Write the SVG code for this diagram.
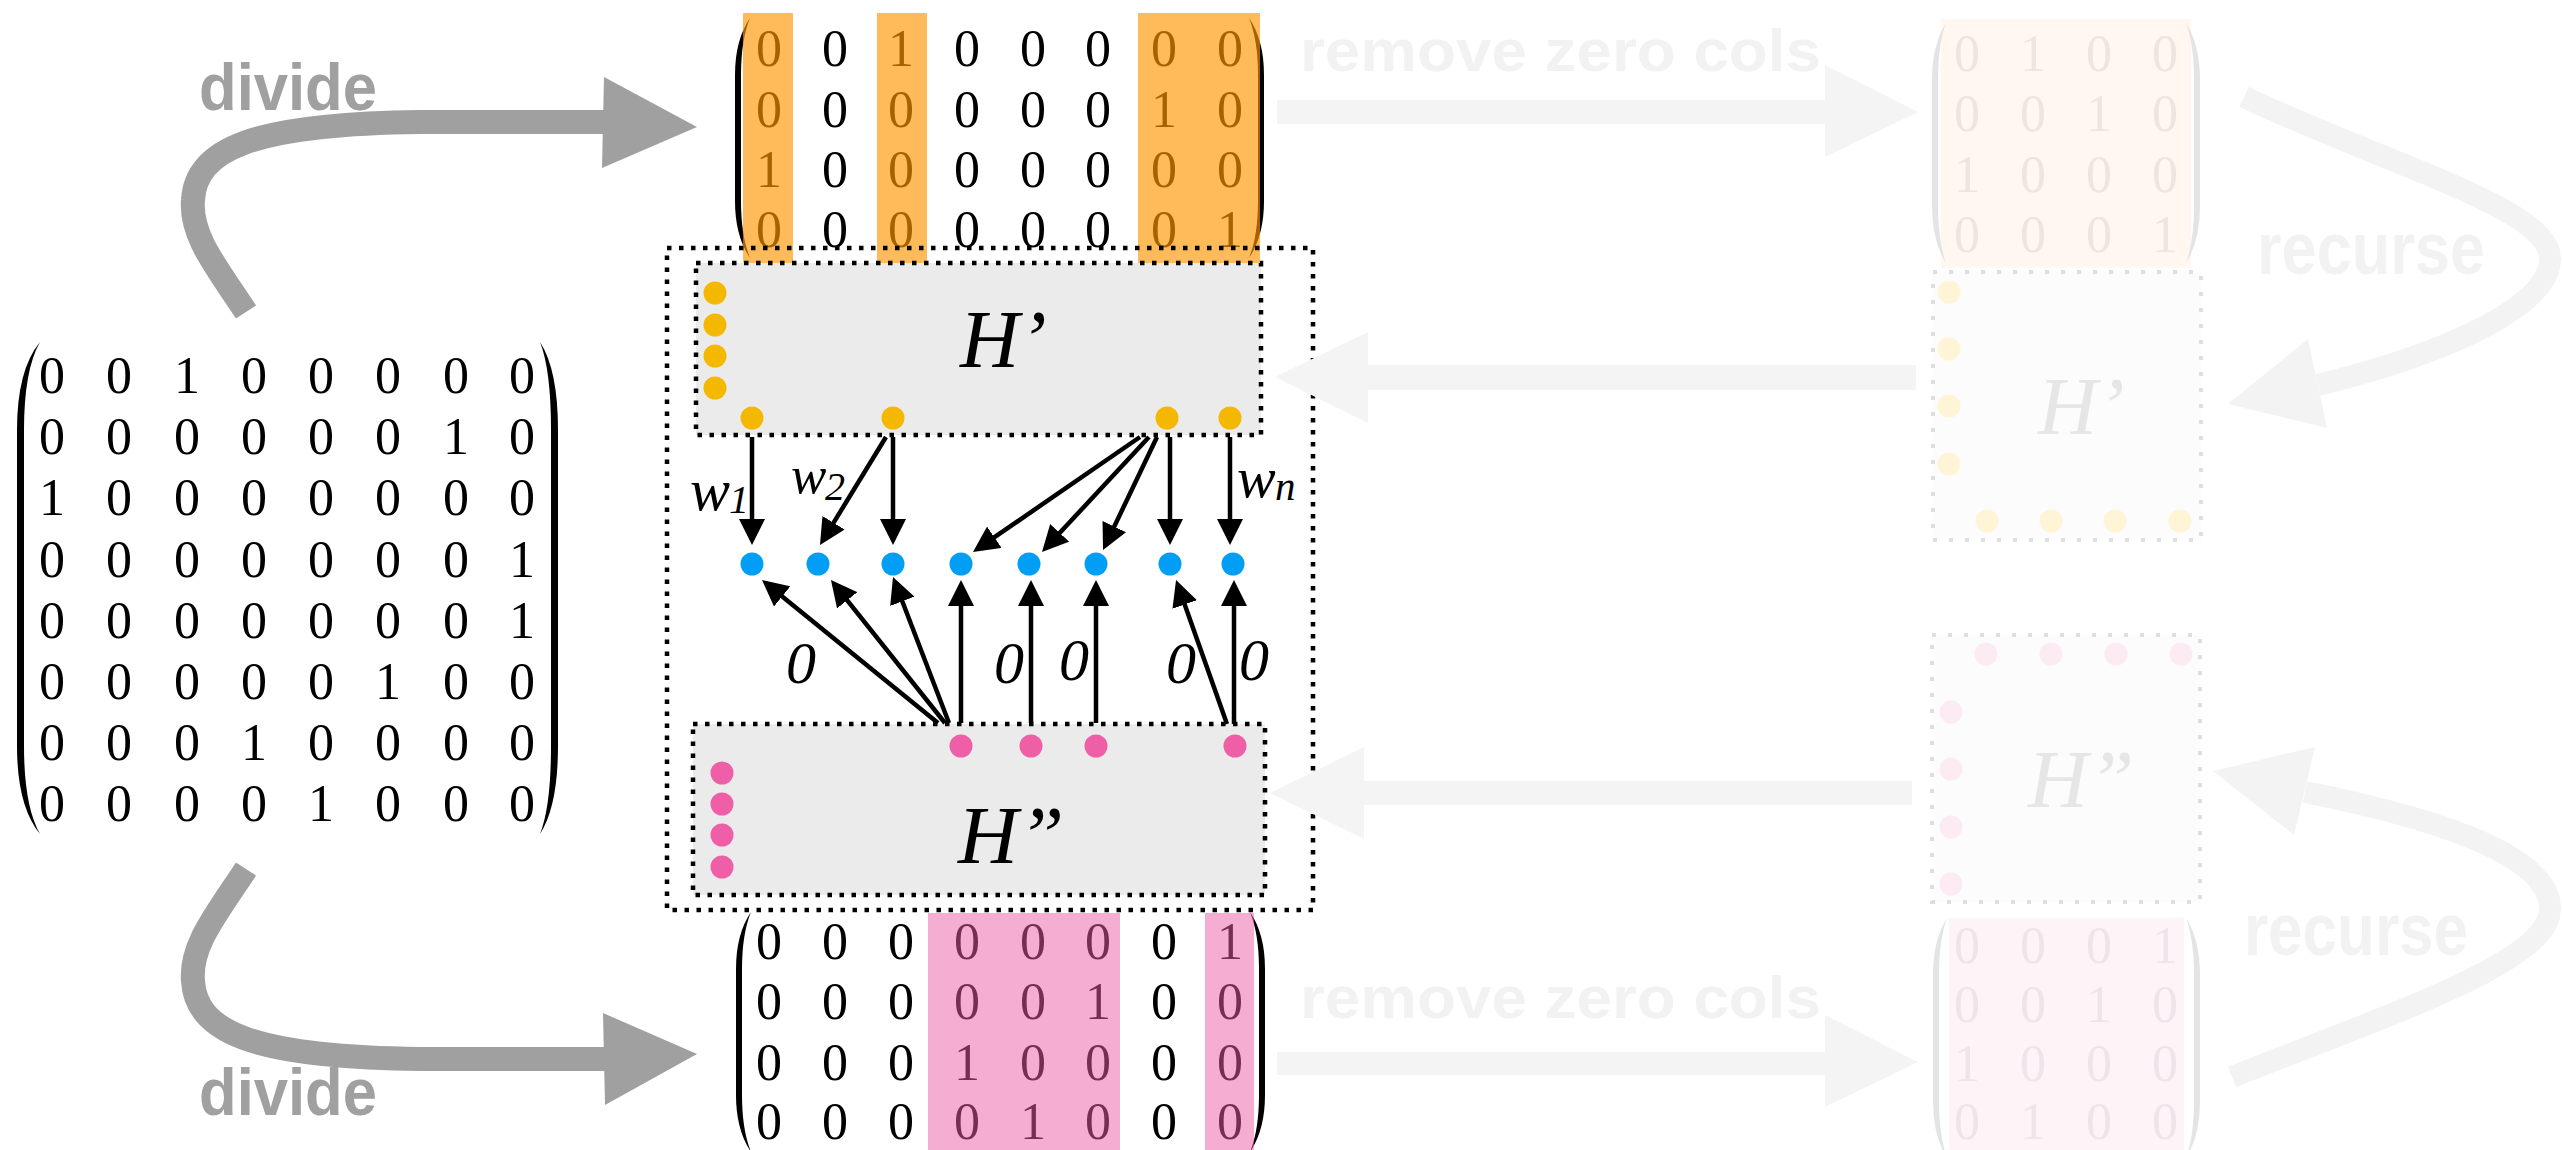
<svg xmlns="http://www.w3.org/2000/svg" width="2562" height="1150" viewBox="0 0 2562 1150">
<defs>
  <marker id="ah" markerUnits="userSpaceOnUse" markerWidth="26" markerHeight="26" refX="21" refY="13" orient="auto">
    <path d="M0,0 L26,13 L0,26 Z" fill="#000"/>
  </marker>
</defs>
<style>
  .num{font-family:"Liberation Serif","Times New Roman",serif;font-size:52px;text-anchor:middle;fill:#000}
  .numf1{font-family:"Liberation Serif","Times New Roman",serif;font-size:52px;text-anchor:middle;fill:#F0E5DE}
  .numf2{font-family:"Liberation Serif","Times New Roman",serif;font-size:52px;text-anchor:middle;fill:#EFE4EA}
  .paren{fill:#000}
  .parenf{fill:#E4E4E4}
  .it{font-family:"Liberation Serif","Times New Roman",serif;font-style:italic;fill:#000}
  .itf{font-family:"Liberation Serif","Times New Roman",serif;font-style:italic;fill:#E6E6E6}
  .bold{font-family:"Liberation Sans",Arial,sans-serif;font-weight:bold}
  .divide{fill:#A0A0A0;font-size:66px}
  .faint{fill:#F2F2F2}
  .box{fill:#EBEBEB;stroke:#000;stroke-width:4.5;stroke-dasharray:4.5 7.5}
  .outer{fill:none;stroke:#000;stroke-width:4.5;stroke-dasharray:4.5 7.5}
  .boxf{fill:#FCFCFC;stroke:#DEDEDE;stroke-width:4;stroke-dasharray:4 12}
  .yel{fill:#F5B800}
  .blu{fill:#009FF5}
  .pnk{fill:#EE5FA7}
  .yelf{fill:#FFF4D6}
  .pnkf{fill:#FCEBF3}
  .edge{stroke:#000;stroke-width:4.5;fill:none;marker-end:url(#ah)}
  .gray{stroke:#A0A0A0;stroke-width:24;fill:none}
  .fade{stroke:#F3F3F3;stroke-width:22;fill:none}
</style>

<!-- input matrix (8x8) -->
<g id="matrix-full">
  <path class="paren" d="M40,342 Q17,370 17,430 L17,746 Q17,806 40,834 Q24,806 24,746 L24,430 Q24,370 40,342 Z"/>
  <path class="paren" d="M540,342 Q558,370 558,430 L558,746 Q558,806 540,834 Q551,806 551,746 L551,430 Q551,370 540,342 Z"/>
  <text class="num" x="52 119 187 254 321 388 456 522" y="393">00100000</text>
  <text class="num" x="52 119 187 254 321 388 456 522" y="454">00000010</text>
  <text class="num" x="52 119 187 254 321 388 456 522" y="515">10000000</text>
  <text class="num" x="52 119 187 254 321 388 456 522" y="577">00000001</text>
  <text class="num" x="52 119 187 254 321 388 456 522" y="638">00000001</text>
  <text class="num" x="52 119 187 254 321 388 456 522" y="699">00000100</text>
  <text class="num" x="52 119 187 254 321 388 456 522" y="760">00010000</text>
  <text class="num" x="52 119 187 254 321 388 456 522" y="821">00001000</text>
</g>

<!-- upper half of the split -->
<g id="matrix-top">
  <path class="paren" d="M750,18 Q735,40 735,75 L735,201 Q735,236 750,258 Q741,236 741,201 L741,75 Q741,40 750,18 Z"/>
  <path class="paren" d="M1249,18 Q1264,40 1264,75 L1264,201 Q1264,236 1249,258 Q1258,236 1258,201 L1258,75 Q1258,40 1249,18 Z"/>
  <text class="num" x="769 835 901 967 1033 1098 1164 1230" y="66">00100000</text>
  <text class="num" x="769 835 901 967 1033 1098 1164 1230" y="127">00000010</text>
  <text class="num" x="769 835 901 967 1033 1098 1164 1230" y="187">10000000</text>
  <text class="num" x="769 835 901 967 1033 1098 1164 1230" y="247">00000001</text>
  <g fill="#FF9500" fill-opacity="0.65">
    <rect x="743" y="13" width="50" height="250"/>
    <rect x="877" y="13" width="50" height="250"/>
    <rect x="1138" y="13" width="122" height="250"/>
  </g>
</g>

<!-- lower half of the split -->
<g id="matrix-bottom">
  <path class="paren" d="M751,912 Q736,934 736,969 L736,1095 Q736,1130 751,1152 Q742,1130 742,1095 L742,969 Q742,934 751,912 Z"/>
  <path class="paren" d="M1250,912 Q1265,934 1265,969 L1265,1095 Q1265,1130 1250,1152 Q1259,1130 1259,1095 L1259,969 Q1259,934 1250,912 Z"/>
  <text class="num" x="769 835 901 967 1033 1098 1164 1230" y="959">00000001</text>
  <text class="num" x="769 835 901 967 1033 1098 1164 1230" y="1019">00000100</text>
  <text class="num" x="769 835 901 967 1033 1098 1164 1230" y="1080">00010000</text>
  <text class="num" x="769 835 901 967 1033 1098 1164 1230" y="1139">00001000</text>
  <g fill="#ED5BA5" fill-opacity="0.5">
    <rect x="928" y="913" width="192" height="240"/>
    <rect x="1205" y="913" width="49" height="240"/>
  </g>
</g>

<!-- merge block: H' and H'' with their dots -->
<g id="h1">
  <rect class="box" x="696" y="263" width="565" height="172"/>
  <text class="it" x="960" y="367" font-size="82">H’</text>
  <circle class="yel" cx="715" cy="293" r="11.5"/>
  <circle class="yel" cx="715" cy="325" r="11.5"/>
  <circle class="yel" cx="715" cy="356" r="11.5"/>
  <circle class="yel" cx="715" cy="388" r="11.5"/>
  <circle class="yel" cx="752" cy="418" r="11.5"/>
  <circle class="yel" cx="893" cy="418" r="11.5"/>
  <circle class="yel" cx="1167" cy="418" r="11.5"/>
  <circle class="yel" cx="1230" cy="418" r="11.5"/>
</g>

<g id="h2">
  <rect class="box" x="693" y="724" width="572" height="171"/>
  <text class="it" x="958" y="863" font-size="83">H”</text>
  <circle class="pnk" cx="961" cy="746" r="11.5"/>
  <circle class="pnk" cx="1031" cy="746" r="11.5"/>
  <circle class="pnk" cx="1096" cy="746" r="11.5"/>
  <circle class="pnk" cx="1235" cy="746" r="11.5"/>
  <circle class="pnk" cx="722" cy="773" r="11.5"/>
  <circle class="pnk" cx="722" cy="804" r="11.5"/>
  <circle class="pnk" cx="722" cy="835" r="11.5"/>
  <circle class="pnk" cx="722" cy="867" r="11.5"/>
</g>

<g id="merged">
  <circle class="blu" cx="752" cy="564" r="11.5"/>
  <circle class="blu" cx="818" cy="564" r="11.5"/>
  <circle class="blu" cx="893" cy="564" r="11.5"/>
  <circle class="blu" cx="961" cy="564" r="11.5"/>
  <circle class="blu" cx="1029" cy="564" r="11.5"/>
  <circle class="blu" cx="1096" cy="564" r="11.5"/>
  <circle class="blu" cx="1170" cy="564" r="11.5"/>
  <circle class="blu" cx="1233" cy="564" r="11.5"/>
</g>

<g id="frame">
  <rect class="outer" x="667" y="248" width="646" height="662"/>
</g>

<!-- faded recursion results on the right -->
<g id="matrix-top-reduced">
  <rect x="1941" y="19" width="250" height="249" fill="#FFF7F0"/>
  <path class="parenf" d="M1946,23 Q1932,45 1932,80 L1932,206 Q1932,241 1946,263 Q1938,241 1938,206 L1938,80 Q1938,45 1946,23 Z"/>
  <path class="parenf" d="M2186,23 Q2200,45 2200,80 L2200,206 Q2200,241 2186,263 Q2194,241 2194,206 L2194,80 Q2194,45 2186,23 Z"/>
  <text class="numf1" x="1967 2033 2099 2165" y="71">0100</text>
  <text class="numf1" x="1967 2033 2099 2165" y="131">0010</text>
  <text class="numf1" x="1967 2033 2099 2165" y="192">1000</text>
  <text class="numf1" x="1967 2033 2099 2165" y="252">0001</text>
</g>

<g id="h1-result">
  <rect class="boxf" x="1933" y="272" width="268" height="268"/>
  <text class="itf" x="2038" y="434" font-size="82">H’</text>
  <circle class="yelf" cx="1949" cy="292" r="11.5"/>
  <circle class="yelf" cx="1949" cy="349" r="11.5"/>
  <circle class="yelf" cx="1949" cy="406" r="11.5"/>
  <circle class="yelf" cx="1949" cy="464" r="11.5"/>
  <circle class="yelf" cx="1987" cy="521" r="11.5"/>
  <circle class="yelf" cx="2051" cy="521" r="11.5"/>
  <circle class="yelf" cx="2115" cy="521" r="11.5"/>
  <circle class="yelf" cx="2180" cy="521" r="11.5"/>
</g>

<g id="h2-result">
  <rect class="boxf" x="1932" y="635" width="268" height="267"/>
  <text class="itf" x="2028" y="807" font-size="83">H”</text>
  <circle class="pnkf" cx="1986" cy="654" r="11.5"/>
  <circle class="pnkf" cx="2051" cy="654" r="11.5"/>
  <circle class="pnkf" cx="2116" cy="654" r="11.5"/>
  <circle class="pnkf" cx="2181" cy="654" r="11.5"/>
  <circle class="pnkf" cx="1951" cy="712" r="11.5"/>
  <circle class="pnkf" cx="1951" cy="769" r="11.5"/>
  <circle class="pnkf" cx="1951" cy="827" r="11.5"/>
  <circle class="pnkf" cx="1951" cy="884" r="11.5"/>
</g>

<g id="matrix-bottom-reduced">
  <rect x="1949" y="918" width="235" height="240" fill="#FDF4F8"/>
  <path class="parenf" d="M1947,918 Q1933,940 1933,975 L1933,1101 Q1933,1136 1947,1158 Q1939,1136 1939,1101 L1939,975 Q1939,940 1947,918 Z"/>
  <path class="parenf" d="M2186,918 Q2200,940 2200,975 L2200,1101 Q2200,1136 2186,1158 Q2194,1136 2194,1101 L2194,975 Q2194,940 2186,918 Z"/>
  <text class="numf2" x="1967 2033 2099 2165" y="963">0001</text>
  <text class="numf2" x="1967 2033 2099 2165" y="1022">0010</text>
  <text class="numf2" x="1967 2033 2099 2165" y="1081">1000</text>
  <text class="numf2" x="1967 2033 2099 2165" y="1139">0100</text>
</g>

<!-- connectors -->
<g id="connectors">
  <!-- divide -->
  <path class="gray" d="M246,312 C215,265 190,235 193,200 C196,150 250,124 420,122 L606,122"/>
  <polygon fill="#A0A0A0" points="604,77 697,127 602,168"/>
  <text class="bold divide" x="199" y="110" textLength="178" lengthAdjust="spacingAndGlyphs">divide</text>
  <path class="gray" d="M246,869 C215,916 190,946 193,981 C196,1031 250,1057 420,1059 L606,1059"/>
  <polygon fill="#A0A0A0" points="603,1013 697,1054 605,1105"/>
  <text class="bold divide" x="199" y="1115" textLength="178" lengthAdjust="spacingAndGlyphs">divide</text>

  <!-- remove zero cols / recurse / return -->
  <polygon fill="#F4F4F4" points="1277,100 1825,100 1825,65 1918,112 1825,157 1825,124 1277,124"/>
  <text class="bold faint" x="1300" y="71" font-size="60" textLength="521" lengthAdjust="spacingAndGlyphs">remove zero cols</text>
  <polygon fill="#F4F4F4" points="1277,1052 1825,1052 1825,1015 1918,1062 1825,1107 1825,1075 1277,1075"/>
  <text class="bold faint" x="1300" y="1018" font-size="60" textLength="521" lengthAdjust="spacingAndGlyphs">remove zero cols</text>

  <path class="fade" d="M2244,97 C2400,170 2556,210 2550,262 C2544,315 2420,360 2318,385"/>
  <polygon fill="#F3F3F3" points="2308,339 2228,404 2327,428"/>
  <text class="bold faint" x="2257" y="274" font-size="74" textLength="228" lengthAdjust="spacingAndGlyphs">recurse</text>
  <path class="fade" d="M2232,1077 C2400,1010 2556,960 2550,905 C2544,850 2420,815 2305,792"/>
  <polygon fill="#F3F3F3" points="2294,835 2213,771 2315,747"/>
  <text class="bold faint" x="2244" y="955" font-size="74" textLength="224" lengthAdjust="spacingAndGlyphs">recurse</text>

  <polygon fill="#F4F4F4" points="1916,365 1368,365 1368,332 1275,377 1368,423 1368,390 1916,390"/>
  <polygon fill="#F4F4F4" points="1912,781 1364,781 1364,747 1270,793 1364,839 1364,805 1912,805"/>

  <!-- H' outputs to merged nodes -->
  <line class="edge" x1="752" y1="437" x2="752" y2="540"/>
  <line class="edge" x1="886" y1="437" x2="822.6" y2="540.7"/>
  <line class="edge" x1="893" y1="437" x2="893" y2="540"/>
  <line class="edge" x1="1140" y1="437" x2="977.1" y2="549.2"/>
  <line class="edge" x1="1149" y1="437" x2="1045.4" y2="548.3"/>
  <line class="edge" x1="1157" y1="437" x2="1105.2" y2="545.5"/>
  <line class="edge" x1="1170" y1="437" x2="1170" y2="540"/>
  <line class="edge" x1="1230" y1="437" x2="1230" y2="540"/>
  <!-- H'' outputs to merged nodes -->
  <line class="edge" x1="938" y1="723" x2="765.9" y2="583.2"/>
  <line class="edge" x1="945" y1="723" x2="834.1" y2="583.9"/>
  <line class="edge" x1="949" y1="723" x2="894.8" y2="581.7"/>
  <line class="edge" x1="961" y1="723" x2="961" y2="585"/>
  <line class="edge" x1="1031" y1="723" x2="1031" y2="585"/>
  <line class="edge" x1="1096" y1="723" x2="1096" y2="585"/>
  <line class="edge" x1="1227" y1="724" x2="1177.7" y2="584.7"/>
  <line class="edge" x1="1234" y1="724" x2="1234" y2="585"/>

  <!-- edge weights -->
  <text class="it" x="690" y="510" font-size="60">w</text>
  <text class="it" x="729" y="513" font-size="40">1</text>
  <text class="it" x="791" y="493" font-size="53">w</text>
  <text class="it" x="825" y="500" font-size="40">2</text>
  <text class="it" x="1237" y="497" font-size="58">w</text>
  <text class="it" x="1275" y="500" font-size="41">n</text>
  <g class="it" font-size="60" text-anchor="middle">
    <text x="801" y="683">0</text>
    <text x="1009" y="683">0</text>
    <text x="1074" y="680">0</text>
    <text x="1181" y="683">0</text>
    <text x="1254" y="680">0</text>
  </g>
</g>
</svg>
